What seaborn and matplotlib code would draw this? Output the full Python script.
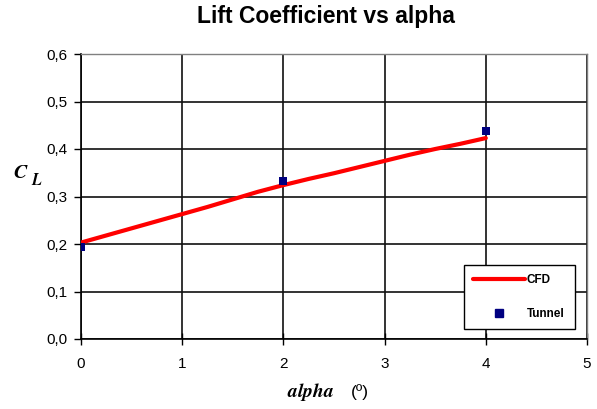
import pandas as pd
import seaborn as sns
import matplotlib.pyplot as plt
from matplotlib.lines import Line2D
from matplotlib.ticker import FuncFormatter

# CFD curve
cfd_alpha = [0, 0.25, 0.5, 0.75, 1.0, 1.25, 1.5, 1.75, 2.0, 2.25, 2.5, 2.75, 3.0, 3.25, 3.5, 3.75, 4.0]
cfd_cl = [0.203, 0.218, 0.233, 0.248, 0.263, 0.278, 0.294, 0.310, 0.324, 0.337, 0.349, 0.362, 0.375, 0.388, 0.400, 0.411, 0.423]

# wind tunnel points
tunnel_alpha = [0, 2, 4]
tunnel_cl = [0.194, 0.332, 0.438]

x_ticks = [0, 1, 2, 3, 4, 5]
y_ticks = [0.0, 0.1, 0.2, 0.3, 0.4, 0.5, 0.6]

cfd = pd.DataFrame({"alpha": cfd_alpha, "cl": cfd_cl})
tunnel = pd.DataFrame({"alpha": tunnel_alpha, "cl": tunnel_cl})

sns.set_style("white")
plt.rcParams["font.family"] = ["Liberation Sans", "DejaVu Sans"]
plt.rcParams["text.color"] = "black"
plt.rcParams["xtick.color"] = "black"
plt.rcParams["ytick.color"] = "black"

W, H = 597, 409
fig = plt.figure(figsize=(W / 100, H / 100), dpi=100)
ax = fig.add_axes([81 / W, 70 / H, 506 / W, 285 / H])

sns.lineplot(data=cfd, x="alpha", y="cl", ax=ax, color="#ff0000", linewidth=3, zorder=3)
sns.scatterplot(data=tunnel, x="alpha", y="cl", ax=ax, color="#000080", marker="s",
                s=30, linewidth=0, zorder=4)

ax.set_xlim(0, 5)
ax.set_ylim(0, 0.6)
ax.set_xticks(x_ticks)
ax.set_yticks(y_ticks)
ax.yaxis.set_major_formatter(FuncFormatter(lambda v, p: f"{v:.1f}".replace(".", ",")))
ax.grid(True, color="#111111", linewidth=1.2)
ax.set_axisbelow(True)
for side in ["top", "right"]:
    ax.spines[side].set_color("#808080")
    ax.spines[side].set_linewidth(1)
for side in ["left", "bottom"]:
    ax.spines[side].set_color("black")
    ax.spines[side].set_linewidth(1.2)
ax.tick_params(axis="y", direction="out", length=5, width=1, labelsize=11, pad=5, left=True)
ax.tick_params(axis="x", direction="inout", length=8, width=1, labelsize=11, pad=9, bottom=True)
ax.set_xlabel("")
ax.set_ylabel("")

# title
fig.text(326 / W, 1 - 23.5 / H, "Lift Coefficient vs alpha", ha="center", va="baseline",
         fontsize=16.5, fontweight="bold")
# y label C_L
fig.text(21 / W, 1 - 178 / H, r"$\mathbfit{C}$", ha="center", va="baseline",
         fontsize=14.5, math_fontfamily="stix")
fig.text(37 / W, 1 - 185 / H, r"$\mathbfit{L}$", ha="center", va="baseline",
         fontsize=11.5, math_fontfamily="stix")
# x label
fig.text(287 / W, 1 - 397 / H, r"$\mathbfit{alpha}$", ha="left", va="baseline",
         fontsize=14, math_fontfamily="stix")
fig.text(351 / W, 1 - 397 / H, "(º)", ha="left", va="baseline", fontsize=12.5)

handles = [Line2D([0], [0], color="#ff0000", linewidth=3),
           Line2D([0], [0], color="#000080", marker="s", linestyle="none", markersize=5.5)]
leg = ax.legend(handles, ["CFD", "Tunnel"], loc="upper left",
                bbox_to_anchor=(383 / 506, 1 - (265 - 54) / 285, 111 / 506, 0.0), mode="expand",
                frameon=True, fancybox=False, edgecolor="black", framealpha=1,
                prop={"weight": "bold", "size": 8.5}, handlelength=4.4, borderaxespad=0,
                borderpad=0.75, labelspacing=1.85, handletextpad=0.15)
leg.get_frame().set_linewidth(1)

fig.savefig("out.png", dpi=100)
